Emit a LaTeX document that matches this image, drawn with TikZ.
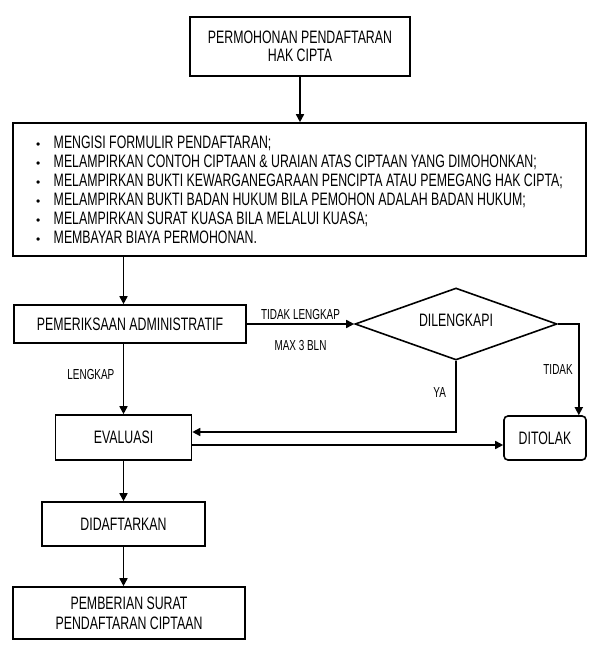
\documentclass[tikz,border=0pt]{standalone}
\usepackage{fontspec}
\setmainfont{Liberation Sans}[FakeStretch=0.685]
\newfontfamily\bulletfont{Liberation Sans}
\usetikzlibrary{shapes.geometric,arrows.meta}

\newcommand{\butir}{\makebox[17.5pt][l]{\bulletfont\fontsize{12}{19}\selectfont\textbullet}}

\begin{document}
\begin{tikzpicture}[
    x=1pt, y=-1pt,
    font=\fontsize{18}{19}\selectfont,
    kotak/.style={draw, line width=1.6pt, inner sep=2pt, align=center},
    pilihan/.style={draw, diamond, shape aspect=2.8, line width=1.6pt, inner sep=0pt, text height=4.9pt, text depth=0pt, minimum width=202pt, minimum height=72pt},
    arrowline/.style={line width=1.6pt, -{Triangle[length=8pt,width=8pt]}},
    ket/.style={font=\fontsize{14.5}{16}\selectfont}
    ]
    \useasboundingbox (0,0) rectangle (602,647);

    \node[kotak, minimum width=220pt, minimum height=59pt] (mohon) at (300,46.5) {PERMOHONAN PENDAFTARAN\\[-1pt]HAK CIPTA};
    \node[kotak, minimum width=573pt, minimum height=133pt, align=left] (syarat) at (299.5,189.5) {%
        \butir MENGISI FORMULIR PENDAFTARAN;\\
        \butir MELAMPIRKAN CONTOH CIPTAAN \& URAIAN ATAS CIPTAAN YANG DIMOHONKAN;\\
        \butir MELAMPIRKAN BUKTI KEWARGANEGARAAN PENCIPTA ATAU PEMEGANG HAK CIPTA;\\
        \butir MELAMPIRKAN BUKTI BADAN HUKUM BILA PEMOHON ADALAH BADAN HUKUM;\\
        \butir MELAMPIRKAN SURAT KUASA BILA MELALUI KUASA;\\
        \butir MEMBAYAR BIAYA PERMOHONAN.};
    \node[kotak, minimum width=232pt, minimum height=38pt] (periksa) at (130,324) {PEMERIKSAAN ADMINISTRATIF};
    \node[pilihan] (lengkapi) at (456,324) {DILENGKAPI};
    \node[kotak, minimum width=136pt, minimum height=45pt] (evaluasi) at (123.5,437.5) {EVALUASI};
    \node[kotak, rounded corners=4pt, minimum width=82pt, minimum height=44pt] (tolak) at (545,438) {DITOLAK};
    \node[kotak, minimum width=163pt, minimum height=44pt] (daftar) at (123.5,524) {DIDAFTARKAN};
    \node[kotak, minimum width=232pt, minimum height=52pt] (surat) at (129,613) {PEMBERIAN SURAT\\[1pt]PENDAFTARAN CIPTAAN};

    % alur utama
    \draw[arrowline] (mohon) -- (mohon |- syarat.north);
    \draw[arrowline] (syarat.south -| evaluasi) -- (periksa.north -| evaluasi);
    \draw[arrowline] (periksa.south -| evaluasi) -- node[ket, pos=0.43, left=5pt] {LENGKAP} (evaluasi);
    \draw[arrowline] (evaluasi) -- (daftar);
    \draw[arrowline] (daftar) -- (daftar |- surat.north);

    % cabang kelengkapan
    \draw[arrowline] (periksa.east) -- node[ket, above] {TIDAK LENGKAP} node[ket, below=12pt] {MAX 3 BLN} (lengkapi.west);
    \draw[arrowline] (lengkapi.east) -| node[ket, pos=0.75, left=2pt] {TIDAK} ([xshift=-8pt]tolak.north east);
    \draw[arrowline] (lengkapi.south) |- node[ket, pos=0.22, left=6pt] {YA} ([yshift=5.5pt]evaluasi.east);
    \draw[arrowline] ([yshift=-7.5pt]evaluasi.east) -- ([yshift=-7.5pt]evaluasi.east -| tolak.west);

\end{tikzpicture}
\end{document}
